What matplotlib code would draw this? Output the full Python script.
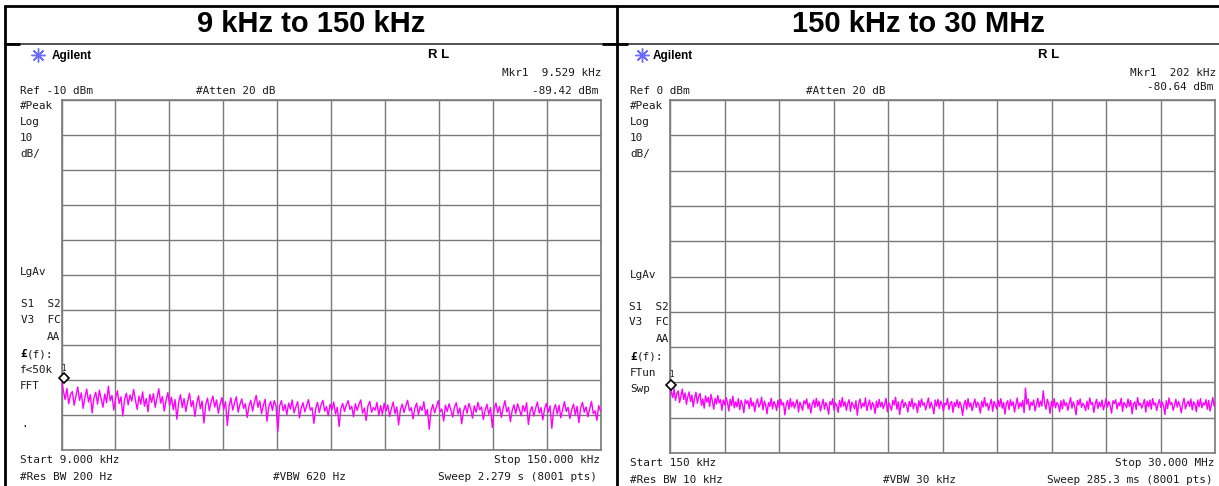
import numpy as np
import matplotlib
matplotlib.use("Agg")
import matplotlib.pyplot as plt

# ---------------- data ----------------
titles = ["9 kHz to 150 kHz", "150 kHz to 30 MHz"]

left_start_khz, left_stop_khz = 9.0, 150.0
left_ref_dbm = -10
left_marker = (9.529, -89.42)
left_trace_dbm = [
    -89.4, -93.0, -95.6, -92.4, -96.8, -94.1, -93.3, -97.2, -94.6, -92.0,
    -95.8, -93.7, -98.1, -94.9, -92.6, -96.3, -94.2, -99.4, -95.1, -93.5,
    -96.9, -92.9, -95.4, -97.8, -94.0, -96.5, -91.8, -95.9, -94.4, -98.6,
    -95.2, -93.1, -96.7, -94.8, -100.3, -95.5, -93.8, -97.1, -94.3, -96.0,
    -92.7, -95.7, -98.4, -94.6, -96.9, -93.4, -97.5, -95.3, -99.1, -94.1,
    -96.4, -93.9, -97.8, -95.0, -92.5, -96.6, -94.7, -98.9, -95.8, -93.6,
    -97.3, -94.9, -98.5, -95.6, -101.2, -96.4, -94.2, -97.9, -95.3, -99.0,
    -96.1, -93.8, -97.6, -95.9, -100.4, -96.7, -94.5, -98.2, -96.0, -102.3,
    -97.1, -95.2, -98.8, -96.3, -94.6, -97.7, -95.7, -99.5, -96.9, -95.0,
    -98.4, -96.2, -103.0, -97.4, -95.1, -98.6, -96.5, -94.8, -99.2, -97.0,
    -95.4, -98.1, -96.8, -100.7, -97.5, -95.8, -98.9, -96.4, -94.4, -97.8,
    -96.0, -99.6, -97.2, -95.5, -101.8, -97.6, -96.1, -98.7, -95.9, -97.3,
    -104.7, -97.4, -95.9, -98.8, -97.0, -99.9, -96.6, -98.3, -95.7, -99.4,
    -97.7, -96.2, -100.8, -98.0, -96.5, -99.1, -97.3, -95.6, -98.6, -97.9,
    -102.4, -98.2, -96.4, -99.3, -97.1, -95.8, -98.9, -97.6, -100.2, -96.9,
    -98.5, -96.3, -99.7, -97.8, -103.3, -98.1, -96.7, -99.0, -97.2, -95.9,
    -98.4, -97.5, -100.5, -96.8, -98.7, -97.0, -95.7, -99.5, -98.0, -101.6,
    -97.4, -96.1, -99.2, -97.9, -98.6, -96.4, -100.1, -97.3, -99.8, -96.6,
    -98.9, -97.1, -100.4, -98.2, -96.3, -99.6, -97.7, -102.8, -98.5, -96.9,
    -99.3, -97.4, -95.8, -98.8, -97.9, -101.1, -98.1, -96.6, -99.9, -97.5,
    -98.7, -96.2, -100.0, -98.4, -104.1, -98.8, -97.0, -99.4, -97.6, -95.9,
    -99.1, -98.3, -101.7, -97.2, -99.0, -96.8, -98.6, -100.6, -97.8, -96.5,
    -99.7, -98.0, -102.5, -98.9, -97.3, -99.5, -96.7, -98.2, -100.9, -97.4,
    -99.2, -96.4, -98.5, -97.7, -101.3, -98.6, -96.9, -99.8, -97.9, -103.6,
    -98.3, -96.6, -99.4, -97.5, -100.7, -98.0, -95.9, -99.1, -97.8, -101.9,
    -98.7, -97.1, -99.6, -96.8, -98.4, -100.2, -97.3, -99.0, -96.5, -102.7,
    -98.9, -97.6, -100.3, -98.1, -96.3, -99.5, -97.9, -101.4, -98.2, -96.7,
    -99.3, -97.4, -103.8, -98.6, -97.0, -99.7, -97.2, -100.8, -98.4, -96.2,
    -99.0, -97.8, -101.0, -98.5, -96.9, -99.9, -97.5, -102.2, -98.0, -96.4,
    -99.2, -97.7, -100.5, -98.3, -96.1, -99.6, -98.8, -101.5, -97.3, -98.9,
]

right_start_mhz, right_stop_mhz = 0.150, 30.0
right_ref_dbm = 0
right_marker = (0.202, -80.64)
right_trace_dbm = [
    -80.6, -82.9, -84.3, -81.8, -85.1, -83.2, -82.4, -85.7, -83.9, -81.9,
    -84.8, -83.0, -86.2, -84.1, -82.7, -85.4, -83.6, -86.9, -84.4, -82.8,
    -85.9, -84.0, -83.1, -86.5, -84.7, -87.3, -83.8, -85.6, -84.2, -86.8,
    -83.4, -85.3, -87.6, -84.5, -86.1, -83.7, -85.8, -84.9, -87.9, -85.0,
    -86.4, -84.3, -85.7, -88.1, -84.8, -86.6, -83.9, -87.2, -85.5, -86.9,
    -84.6, -87.7, -85.1, -86.3, -88.6, -84.9, -86.0, -85.2, -87.4, -84.4,
    -86.7, -85.6, -88.3, -85.9, -84.7, -87.0, -86.1, -84.2, -87.8, -85.3,
    -86.5, -88.9, -85.7, -86.8, -84.5, -87.5, -85.4, -86.2, -88.0, -85.0,
    -87.1, -84.8, -86.4, -85.8, -89.2, -86.3, -85.1, -87.6, -84.6, -86.9,
    -85.5, -87.3, -86.0, -84.9, -88.4, -85.6, -86.6, -87.9, -85.2, -86.1,
    -84.7, -87.4, -85.9, -88.7, -86.2, -85.0, -87.1, -84.5, -86.8, -85.3,
    -88.1, -86.5, -84.8, -87.6, -85.7, -86.9, -89.0, -85.4, -86.3, -84.6,
    -87.8, -85.8, -86.6, -88.5, -85.1, -87.0, -84.3, -86.7, -85.5, -87.9,
    -86.0, -84.9, -88.2, -85.6, -86.4, -87.5, -85.2, -89.3, -86.1, -84.7,
    -87.3, -85.9, -86.8, -84.4, -88.0, -86.3, -85.0, -87.7, -85.7, -86.5,
    -88.8, -85.3, -87.2, -84.8, -86.9, -85.6, -87.4, -86.2, -84.5, -88.3,
    -85.8, -86.7, -87.9, -85.1, -86.4, -84.2, -87.6, -85.5, -89.1, -86.0,
    -84.9, -87.1, -85.7, -86.6, -88.4, -85.4, -86.8, -84.6, -87.5, -85.9,
    -86.3, -88.6, -85.2, -87.0, -84.7, -86.5, -85.8, -87.8, -86.1, -84.4,
    -87.3, -85.6, -86.9, -88.9, -85.0, -86.7, -84.8, -87.4, -85.3, -86.2,
    -88.1, -85.9, -86.4, -84.5, -87.7, -86.0, -85.4, -88.5, -85.7, -86.8,
    -84.9, -87.2, -85.5, -86.6, -89.4, -86.3, -85.1, -87.6, -84.6, -86.9,
    -85.8, -88.0, -86.2, -84.7, -87.1, -85.6, -86.5, -88.7, -85.3, -87.0,
    -84.3, -86.7, -85.9, -87.9, -86.1, -84.8, -88.2, -85.4, -86.4, -87.5,
    -85.0, -86.8, -84.6, -87.3, -85.7, -89.0, -86.0, -85.2, -87.7, -84.9,
    -86.6, -85.5, -88.4, -86.3, -84.4, -87.4, -85.8, -86.9, -85.1, -88.6,
    -81.6, -86.2, -84.7, -87.8, -85.6, -86.5, -85.0, -88.1, -86.4, -84.5,
    -87.0, -85.3, -86.7, -82.4, -85.9, -87.6, -84.8, -86.1, -88.8, -85.4,
    -86.9, -84.6, -87.2, -85.7, -86.3, -88.3, -85.2, -87.5, -84.9, -86.6,
    -85.8, -87.9, -86.0, -84.3, -87.3, -85.5, -86.8, -89.2, -85.1, -86.4,
    -84.7, -87.1, -85.9, -86.5, -88.0, -85.3, -87.6, -84.4, -86.2, -85.7,
    -88.5, -86.1, -84.8, -87.4, -85.6, -86.9, -85.0, -87.8, -86.3, -84.6,
    -87.0, -85.4, -86.7, -88.7, -85.2, -86.0, -84.9, -87.5, -85.8, -86.6,
    -84.5, -88.2, -85.7, -86.3, -87.2, -84.7, -86.8, -85.1, -88.9, -86.1,
    -85.5, -87.7, -84.3, -86.5, -85.9, -87.3, -86.2, -84.8, -88.4, -85.3,
    -86.9, -85.0, -87.6, -84.6, -86.4, -85.8, -88.0, -86.0, -84.9, -87.1,
    -85.6, -86.7, -89.1, -85.2, -87.4, -84.4, -86.3, -85.7, -87.9, -86.5,
    -84.8, -87.0, -85.4, -86.6, -88.6, -85.9, -84.5, -87.5, -86.1, -85.3,
    -86.8, -84.7, -87.8, -85.5, -86.2, -88.3, -85.0, -86.9, -84.6, -87.2,
    -85.8, -86.4, -84.9, -87.6, -85.1, -88.1, -86.3, -84.3, -86.7, -85.6,
]

left_header = ["Ref -10 dBm", "#Atten 20 dB", "Mkr1  9.529 kHz", "-89.42 dBm"]
right_header = ["Ref 0 dBm", "#Atten 20 dB", "Mkr1  202 kHz", "-80.64 dBm"]
left_side = ["#Peak", "Log", "10", "dB/", "LgAv", "S1  S2", "V3  FC", "AA", "(f):", "f<50k", "FFT"]
right_side = ["#Peak", "Log", "10", "dB/", "LgAv", "S1  S2", "V3  FC", "AA", "(f):", "FTun", "Swp"]
left_footer = ["Start 9.000 kHz", "Stop 150.000 kHz", "#Res BW 200 Hz", "#VBW 620 Hz", "Sweep 2.279 s (8001 pts)"]
right_footer = ["Start 150 kHz", "Stop 30.000 MHz", "#Res BW 10 kHz", "#VBW 30 kHz", "Sweep 285.3 ms (8001 pts)"]

# ---------------- figure ----------------
W, H = 1219, 486
fig = plt.figure(figsize=(W / 100, H / 100), dpi=100)
fig.patch.set_facecolor("white")
bg = fig.add_axes([0, 0, 1, 1])
bg.set_xlim(0, W)
bg.set_ylim(H, 0)
bg.axis("off")

MONO = "DejaVu Sans Mono"
TXT = "#1a1a1a"
GRID = "#7a7a7a"

# outer frame
bg.plot([4, W], [6, 6], color="black", lw=2.0, solid_capstyle="butt")
bg.plot([4.5, 4.5], [5, H], color="black", lw=2.0, solid_capstyle="butt")
bg.plot([617, 617], [5, H], color="black", lw=2.0, solid_capstyle="butt")
bg.plot([4, W], [44.5, 44.5], color="#222222", lw=1.1, solid_capstyle="butt")
bg.plot([4, 20], [44.5, 44.5], color="black", lw=2.0, solid_capstyle="butt")
bg.plot([602, 628], [44.5, 44.5], color="black", lw=2.0, solid_capstyle="butt")

for cx, t in zip([311, 918], titles):
    bg.text(cx, 24.5, t, ha="center", va="center", fontsize=21, fontweight="bold",
            family="Liberation Sans", color="black")


def mono(x, y, s, ha="left", size=7.9, **kw):
    bg.text(x, y, s, ha=ha, va="center", fontsize=size, family=MONO, color=TXT, **kw)


def panel(ox, box, start, stop, ref, trace, marker, header, side, side_y,
          footer, footer_y, hdr_y, head):
    x0, y0, x1, y1 = box
    ax = fig.add_axes([x0 / W, 1 - y1 / H, (x1 - x0) / W, (y1 - y0) / H])
    freqs = np.linspace(start, stop, len(trace))
    ax.set_xlim(start, stop)
    ax.set_ylim(ref - 100, ref)
    ax.set_xticks(np.linspace(start, stop, 11))
    ax.set_yticks(np.linspace(ref - 100, ref, 11))
    ax.tick_params(length=0, labelbottom=False, labelleft=False)
    ax.grid(True, color=GRID, lw=1.0)
    for sp in ax.spines.values():
        sp.set_color(GRID)
        sp.set_linewidth(1.2)
    ax.plot(freqs, trace, color="#ff00ff", lw=1.0, zorder=3, clip_on=True)
    ax.plot([marker[0]], [marker[1]], marker="D", ms=5, mfc="white", mec="black",
            mew=1.2, zorder=5, clip_on=False)
    ax.annotate("1", (marker[0], marker[1]), xytext=(0, 7), textcoords="offset points",
                ha="center", va="center", fontsize=5.5, family=MONO, color=TXT,
                annotation_clip=False)

    # header
    bg.plot([head[0]], [55.5], marker=(8, 2, 0), ms=10, color="#6a6aff", mew=1.0)
    bg.text(head[1], 56, "Agilent", ha="left", va="center", fontsize=8.5,
            fontweight="bold", family="Liberation Sans", color="black")
    bg.text(head[2], 55, "R L", ha="left", va="center", fontsize=9.5,
            fontweight="bold", family="Liberation Sans", color="black")
    mono(ox + 16, 91.5, header[0])
    mono(ox + 192, 91.5, header[1])
    mono(x1 + 1, 73.5, header[2], ha="right")
    mono(x1 - 2, hdr_y, header[3], ha="right")

    # side labels
    tx = ox + 16
    for lab, yy in zip(side, side_y):
        if lab in ("S1  S2", "V3  FC", "AA"):
            mono(x0 - 1, yy, lab, ha="right")
        elif lab == "(f):":
            bg.text(tx, yy, "\u00a3", ha="left", va="center", fontsize=8, family=MONO,
                    fontweight="bold", color="black")
            mono(tx + 7, yy, lab)
        else:
            mono(tx, yy, lab)

    # footer
    mono(tx, footer_y[0], footer[0])
    mono(x1 - 1, footer_y[0], footer[1], ha="right")
    mono(tx, footer_y[1], footer[2])
    mono(ox + 269, footer_y[1], footer[3])
    mono(x1 - 3, footer_y[1], footer[4], ha="right")
    return ax


left_side_y = [106, 121.7, 137.5, 153.5, 271.7, 303.5, 320, 337.3, 354, 369.5, 386]
right_side_y = [106, 121.7, 137.5, 153.5, 275, 306.7, 321.7, 339.3, 356.7, 372.7, 389.3]

panel(4, (61.5, 100, 600.5, 450), left_start_khz, left_stop_khz, left_ref_dbm,
      left_trace_dbm, left_marker, left_header, left_side, left_side_y,
      left_footer, (460, 476.7), 91.5, (37.5, 51.5, 428))
mono(21, 424, ".")

panel(614, (670, 100, 1215.5, 453), right_start_mhz, right_stop_mhz, right_ref_dbm,
      right_trace_dbm, right_marker, right_header, right_side, right_side_y,
      right_footer, (463, 479.5), 87, (642, 653, 1038))

fig.savefig("out.png", dpi=100, facecolor="white")
